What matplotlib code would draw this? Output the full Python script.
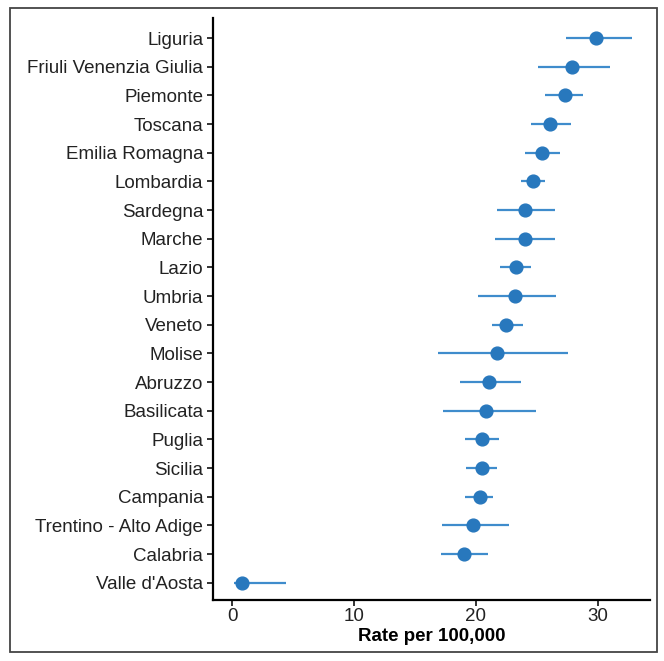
import numpy as np
import matplotlib.pyplot as plt
from matplotlib.patches import Rectangle

plt.rcParams['font.family'] = ['Liberation Sans', 'DejaVu Sans']

# regioni, dall'alto verso il basso
regions = ["Liguria", "Friuli Venenzia Giulia", "Piemonte", "Toscana",
           "Emilia Romagna", "Lombardia", "Sardegna", "Marche", "Lazio",
           "Umbria", "Veneto", "Molise", "Abruzzo", "Basilicata", "Puglia",
           "Sicilia", "Campania", "Trentino - Alto Adige", "Calabria",
           "Valle d'Aosta"]
rate = [29.9, 27.9, 27.3, 26.1, 25.4, 24.7, 24.0, 24.0, 23.3, 23.2,
        22.5, 21.7, 21.1, 20.8, 20.5, 20.5, 20.3, 19.8, 19.0, 0.8]
lower = [27.4, 25.1, 25.7, 24.5, 24.0, 23.7, 21.7, 21.6, 22.0, 20.2,
         21.3, 16.9, 18.7, 17.3, 19.1, 19.2, 19.1, 17.2, 17.1, 0.1]
upper = [32.8, 31.0, 28.8, 27.8, 26.9, 25.7, 26.5, 26.5, 24.5, 26.6,
         23.9, 27.6, 23.7, 24.9, 21.9, 21.7, 21.4, 22.7, 21.0, 4.4]
xticks = [0, 10, 20, 30]

n = len(regions)
y = np.arange(n)[::-1]

fig = plt.figure(figsize=(6.64, 6.61), dpi=100)
ax = fig.add_axes([213/664, 1 - 600/661, (650 - 213)/664, (600 - 18)/661])

ax.hlines(y, lower, upper, color='#3f8ccc', lw=1.6, zorder=2)
ax.plot(rate, y, 'o', color='#2878bd', ms=9.2, zorder=3)

ax.set_xlim(-1.6, 34.3)
ax.set_ylim(-0.6, n - 0.3)
ax.set_yticks(y)
ax.set_yticklabels(regions)
ax.set_xticks(xticks)
ax.set_xticklabels([str(t) for t in xticks])

for s in ['top', 'right']:
    ax.spines[s].set_visible(False)
for s in ['left', 'bottom']:
    ax.spines[s].set_linewidth(1.6)
    ax.spines[s].set_color('black')
ax.tick_params(axis='both', length=4, width=1.4, color='#333333',
               labelsize=13.5, labelcolor='#222222', pad=3)
ax.tick_params(axis='x', pad=2)
ax.set_xlabel('Rate per 100,000', fontsize=13.5, fontweight='bold', labelpad=2)

# cornice esterna
fig.patches.append(Rectangle((10/664, 1 - 652/661), 647/664, 644/661,
                             transform=fig.transFigure, fill=False,
                             edgecolor='#444444', lw=1.3))

fig.savefig('out.png', dpi=100)
